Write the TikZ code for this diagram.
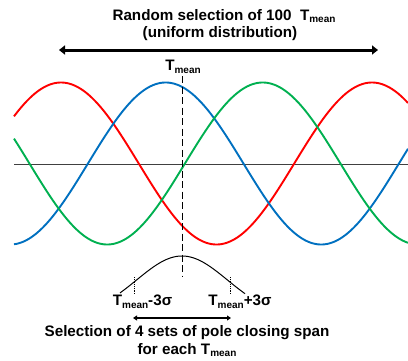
\documentclass[tikz,border=0pt]{standalone}
\usepackage{fontspec}
\setmainfont{Liberation Sans}
\usetikzlibrary{arrows.meta}
\definecolor{cred}{RGB}{255,0,0}
\definecolor{cblue}{RGB}{0,112,192}
\definecolor{cgreen}{RGB}{0,176,80}
\newcommand{\Tm}{T\raisebox{-0.35ex}{\fontsize{10}{11}\selectfont mean}}
\tikzset{
  lbl/.style={font=\fontsize{15.2}{17}\selectfont\bfseries, inner sep=0pt, align=center},
  wave/.style={line width=1.9pt, samples=240, smooth},
}
\begin{document}
\begin{tikzpicture}[x=1pt,y=-1pt]
\useasboundingbox (0,0) rectangle (408,360);
% axis
\coordinate (axL) at (14,164);
\coordinate (axR) at (408,164);
\draw[line width=1pt, black!75] (axL) -- (axR);
% waves
\draw[wave, cred, domain=14:408] plot ({\x},{163.5-81*cos((\x-61)/311*360)});
\draw[wave, cblue, domain=14:408] plot ({\x},{163.5-81*cos((\x-165.7)/311*360)});
\draw[wave, cgreen, domain=14:408] plot ({\x},{163.5-81*cos((\x-262.7)/311*360)});
% titles
\node[lbl] (title) at (224,16) {Random selection of 100\ \ \Tm};
\node[lbl] (sub) at (220,34) {(uniform distribution)};
\coordinate (aL) at (59,50);
\coordinate (aR) at (378,50);
\draw[line width=3pt, {Triangle[length=6pt,width=9pt]}-{Triangle[length=6pt,width=9pt]}] (aL) -- (aR);
% Tmean dashed
\node[lbl] (tm) at (183,67) {\Tm};
\coordinate (dT) at (182,76);
\coordinate (dB) at (182,276);
\draw[line width=1pt, dash pattern=on 7pt off 3.5pt] (dT) -- (dB);
% bell
\draw[line width=1pt, samples=100, smooth, domain=120:245] plot ({\x},{317-61*exp(-((\x-182)^2)/4130)});
\coordinate (d1t) at (134,277);
\coordinate (d1b) at (134,294);
\coordinate (d2t) at (230.5,277);
\coordinate (d2b) at (230.5,294);
\draw[densely dotted, line width=0.8pt] (d1t) -- (d1b);
\draw[densely dotted, line width=0.8pt] (d2t) -- (d2b);
\node[lbl] (lm) at (142.5,302) {\Tm-3σ};
\node[lbl] (lp) at (240,302) {\Tm+3σ};
\coordinate (bL) at (133,318);
\coordinate (bR) at (231,318);
\draw[line width=1.5pt, {Triangle[length=4pt,width=5pt]}-{Triangle[length=4pt,width=5pt]}] (bL) -- (bR);
\node[lbl] (sel) at (187,333) {Selection of 4 sets of pole closing span};
\node[lbl] (sel2) at (187,350) {for each \Tm};
\end{tikzpicture}
\end{document}
